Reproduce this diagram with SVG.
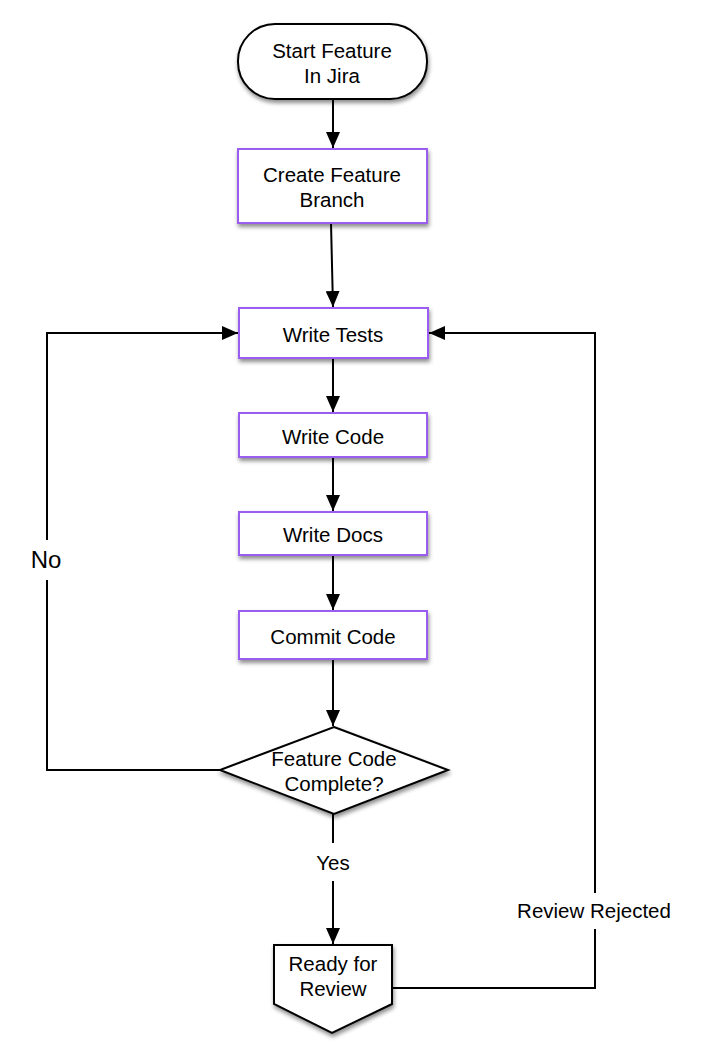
<svg xmlns="http://www.w3.org/2000/svg" width="702" height="1056" viewBox="0 0 702 1056">
<style>
.box{fill:#fff;stroke:#9b5cf2;stroke-width:2;filter:url(#sh)}
.blk{fill:#fff;stroke:#000;stroke-width:2;filter:url(#sh)}
.t{font-family:"Liberation Sans",Arial,sans-serif;font-size:20.5px;fill:#000;text-anchor:middle}
.c{fill:none;stroke:#000;stroke-width:2}
</style>
<defs>
<filter id="sh" x="-20%" y="-20%" width="140%" height="150%">
<feDropShadow dx="1" dy="3" stdDeviation="2" flood-color="#000" flood-opacity="0.45"/>
</filter>
<marker id="ah" viewBox="0 0 16 14" refX="16" refY="7" markerWidth="16" markerHeight="14" markerUnits="userSpaceOnUse" orient="auto">
<path d="M0,0 L16,7 L0,14 Z" fill="#000"/>
</marker>
</defs>
<g id="connectors">
<path class="c" d="M333,99 V148" marker-end="url(#ah)"/>
<path class="c" d="M331,223 L333,307" marker-end="url(#ah)"/>
<path class="c" d="M333,358 V412" marker-end="url(#ah)"/>
<path class="c" d="M333,457 V511" marker-end="url(#ah)"/>
<path class="c" d="M333,555 V610" marker-end="url(#ah)"/>
<path class="c" d="M333,659 V726" marker-end="url(#ah)"/>
<path class="c" d="M220,770 H47 V333 H238" marker-end="url(#ah)"/>
<path class="c" d="M333,814 V944" marker-end="url(#ah)"/>
<path class="c" d="M392,988 H595 V333 H429" marker-end="url(#ah)"/>
<rect x="308" y="843" width="50" height="38" fill="#fff"/>
<text class="t" x="333" y="870">Yes</text>
<rect x="508" y="893" width="172" height="36" fill="#fff"/>
<text class="t" x="594" y="918">Review Rejected</text>
<rect x="24" y="540" width="46" height="40" fill="#fff"/>
<text class="t" x="46" y="568" style="font-size:24px">No</text>
</g>
<g id="start">
<rect class="blk" x="238" y="24" width="189" height="75" rx="37" ry="37"/>
<text class="t" x="332" y="58">Start Feature</text>
<text class="t" x="332" y="83">In Jira</text>
</g>
<g id="branch">
<rect class="box" x="238" y="149" width="189" height="74"/>
<text class="t" x="332" y="182">Create Feature</text>
<text class="t" x="332" y="207">Branch</text>
</g>
<g id="tests">
<rect class="box" x="239" y="308" width="189" height="50"/>
<text class="t" x="333" y="342">Write Tests</text>
</g>
<g id="code">
<rect class="box" x="239" y="413" width="188" height="44"/>
<text class="t" x="333" y="444">Write Code</text>
</g>
<g id="docs">
<rect class="box" x="239" y="512" width="188" height="43"/>
<text class="t" x="333" y="542">Write Docs</text>
</g>
<g id="commit">
<rect class="box" x="239" y="611" width="188" height="48"/>
<text class="t" x="333" y="644">Commit Code</text>
</g>
<g id="decision">
<polygon class="blk" points="334,727 448,770 334,814 220,770"/>
<text class="t" x="334" y="766">Feature Code</text>
<text class="t" x="334" y="791">Complete?</text>
</g>
<g id="ready">
<polygon class="blk" points="274,945 392,945 392,1004 332,1033 274,1004"/>
<text class="t" x="333" y="971">Ready for</text>
<text class="t" x="333" y="996">Review</text>
</g>
</svg>
